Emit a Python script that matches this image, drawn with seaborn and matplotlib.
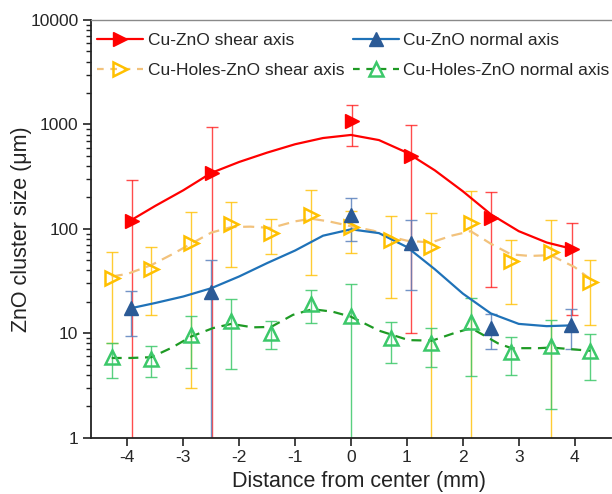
import numpy as np
import pandas as pd
import seaborn as sns
import matplotlib.pyplot as plt
from matplotlib.lines import Line2D
from matplotlib.ticker import FixedLocator, FixedFormatter, LogLocator, NullFormatter

# measured points (mm, um) with symmetric error bars
cu_shear_x = [-3.92, -2.48, 0.02, 1.08, 2.50, 3.96]
cu_shear_y = [119, 341, 1080, 500, 127, 64]
cu_shear_err = [175, 600, 457, 490, 99, 49]

cu_normal_x = [-3.93, -2.50, 0.0, 1.08, 2.50, 3.94]
cu_normal_y = [17.5, 25, 137, 74, 11.2, 12.1]
cu_normal_err = [8, 25, 61, 48, 4.2, 5]

holes_x = [-4.28, -3.57, -2.86, -2.14, -1.43, -0.71, 0.0, 0.71, 1.43, 2.14, 2.86, 3.57, 4.28]
holes_shear_y = [34, 41, 74, 111, 91, 136, 104, 78, 67, 115, 49, 60, 31]
holes_shear_err = [26, 26, 71, 68, 33, 100, 45, 56, 76, 117, 30, 62, 19]
holes_normal_y = [5.9, 5.7, 9.6, 13, 10, 19.2, 14.5, 9, 8, 12.8, 6.6, 7.6, 6.7]
holes_normal_err = [2.2, 1.9, 4.9, 8.5, 3, 6.7, 15, 3.8, 3.2, 8.9, 2.6, 5.7, 3.1]

# fitted curves
cu_shear_fit_x = [-3.9, -3.5, -3.0, -2.5, -2.0, -1.5, -1.0, -0.5, 0.0, 0.5, 1.0, 1.5, 2.0, 2.5, 3.0, 3.5, 3.97]
cu_shear_fit_y = [124, 166, 234, 343, 437, 537, 646, 741, 793, 708, 537, 363, 229, 138, 95, 74, 64]

cu_normal_fit_x = [-3.93, -3.5, -3.0, -2.5, -2.0, -1.5, -1.0, -0.5, 0.0, 0.5, 1.0, 1.5, 2.0, 2.5, 3.0, 3.5, 3.94]
cu_normal_fit_y = [17.4, 19.5, 22.5, 27, 35, 47, 62, 86, 99, 91, 67, 41, 24, 15.5, 12.3, 11.7, 11.9]

holes_shear_fit_x = [-4.28, -4.0, -3.57, -3.2, -2.86, -2.5, -2.14, -1.8, -1.43, -1.0, -0.71, -0.4, 0.0,
                     0.4, 0.71, 1.0, 1.43, 1.8, 2.14, 2.5, 2.86, 3.2, 3.57, 4.0, 4.28]
holes_shear_fit_y = [35, 37, 45, 57, 72, 92, 104, 105, 102, 118, 125, 118, 106,
                     96, 84, 77, 74, 86, 95, 72, 57, 55, 56, 43, 33]

holes_normal_fit_x = [-4.28, -3.95, -3.57, -3.2, -2.86, -2.47, -2.14, -1.76, -1.43, -1.04, -0.69, -0.33, 0.0,
                      0.5, 1.03, 1.45, 1.86, 2.15, 2.63, 2.87, 3.35, 3.58, 4.28]
holes_normal_fit_y = [5.8, 5.8, 5.9, 7.3, 9.3, 11.2, 12.3, 11.4, 11.5, 15, 17, 16.1, 14.4,
                      10.6, 8.6, 8.5, 10.1, 11.2, 8.0, 7.2, 7.2, 7.3, 6.8]

labels = ["Cu-ZnO shear axis", "Cu-Holes-ZnO shear axis", "Cu-ZnO normal axis", "Cu-Holes-ZnO normal axis"]

sns.set_style("ticks")
plt.rcParams['font.family'] = ['Liberation Sans', 'DejaVu Sans']

fig, ax = plt.subplots(figsize=(6.12, 4.94), dpi=100)
fig.subplots_adjust(left=91/612, right=611/612, bottom=1-437.7/494, top=1-20/494)
ax.set_yscale('log')

red, blue_line, blue_mk, blue_err = '#ff0000', '#1f72b8', '#2b5a96', '#5b82bd'
orange_line, orange_mk = '#f2c27c', '#ffc000'
green_line, green_mk = '#1e9a24', '#3cc86a'

# fitted curves
sns.lineplot(x=cu_shear_fit_x, y=cu_shear_fit_y, ax=ax, color=red, lw=1.6, sort=False, zorder=3)
sns.lineplot(x=cu_normal_fit_x, y=cu_normal_fit_y, ax=ax, color=blue_line, lw=1.6, sort=False, zorder=3)
sns.lineplot(x=holes_shear_fit_x, y=holes_shear_fit_y, ax=ax, color=orange_line, lw=1.6,
             linestyle=(0, (5, 3)), sort=False, zorder=2)
sns.lineplot(x=holes_normal_fit_x, y=holes_normal_fit_y, ax=ax, color=green_line, lw=1.6,
             linestyle=(0, (4.5, 3)), sort=False, zorder=2)

# error bars
ax.errorbar(holes_x, holes_shear_y, yerr=holes_shear_err, fmt='none', ecolor=orange_mk,
            elinewidth=1.0, capsize=4, capthick=1.0, alpha=0.8, zorder=1)
ax.errorbar(holes_x, holes_normal_y, yerr=holes_normal_err, fmt='none', ecolor=green_mk,
            elinewidth=1.0, capsize=4, capthick=1.0, alpha=0.85, zorder=1)
ax.errorbar(cu_shear_x, cu_shear_y, yerr=cu_shear_err, fmt='none', ecolor=red,
            elinewidth=1.0, capsize=4, capthick=1.0, alpha=0.7, zorder=1)
ax.errorbar(cu_normal_x, cu_normal_y, yerr=cu_normal_err, fmt='none', ecolor=blue_err,
            elinewidth=1.0, capsize=4, capthick=1.0, alpha=0.85, zorder=1)

# markers
ax.plot(holes_x, holes_shear_y, ls='none', marker='>', ms=10, mfc='none', mec=orange_mk, mew=1.8, zorder=4)
ax.plot(holes_x, holes_normal_y, ls='none', marker='^', ms=10, mfc='none', mec=green_mk, mew=1.8, zorder=4)
ax.plot(cu_shear_x, cu_shear_y, ls='none', marker='>', ms=10, mfc=red, mec=red, zorder=5)
ax.plot(cu_normal_x, cu_normal_y, ls='none', marker='^', ms=10, mfc=blue_mk, mec=blue_mk, zorder=5)

ax.set_xlim(-4.65, 4.65)
ax.set_ylim(1, 10000)
ax.set_xticks(range(-4, 5))
ax.set_xticklabels([str(v) for v in range(-4, 5)])
ax.yaxis.set_major_locator(FixedLocator([1, 10, 100, 1000, 10000]))
ax.yaxis.set_major_formatter(FixedFormatter(['1', '10', '100', '1000', '10000']))
ax.yaxis.set_minor_locator(LogLocator(base=10, subs=np.arange(2, 10)))
ax.yaxis.set_minor_formatter(NullFormatter())
ax.tick_params(axis='both', which='major', labelsize=12.5, length=6, width=1.2, color='#222222', pad=3)
ax.tick_params(axis='y', which='minor', length=3.5, width=1, color='#222222')
ax.tick_params(axis='x', which='minor', length=0)

for s in ['left', 'bottom']:
    ax.spines[s].set_color('#222222')
    ax.spines[s].set_linewidth(1.3)
ax.spines['top'].set_color('#8a8a8a')
ax.spines['top'].set_linewidth(1.0)
ax.spines['right'].set_visible(False)

ax.set_xlabel("Distance from center (mm)", fontsize=15.5, color='#222222')
ax.set_ylabel("ZnO cluster size (μm)", fontsize=15.5, color='#222222')
ax.xaxis.set_label_coords(0.515, -0.08)
ax.yaxis.set_label_coords(-0.113, 0.5)

handles = [
    Line2D([], [], color=red, lw=1.6, marker='>', ms=10, mfc=red, mec=red),
    Line2D([], [], color=orange_line, lw=1.6, ls=(0, (3, 3)), marker='>', ms=10, mfc='none', mec=orange_mk, mew=1.8),
    Line2D([], [], color=blue_line, lw=1.6, marker='^', ms=10, mfc=blue_mk, mec=blue_mk),
    Line2D([], [], color=green_line, lw=1.6, ls=(0, (3, 3)), marker='^', ms=10, mfc='none', mec=green_mk, mew=1.8),
]
ax.legend(handles, labels, ncol=2, frameon=False, fontsize=12.5, loc='upper left',
          bbox_to_anchor=(97/612, 1-33/494), bbox_transform=fig.transFigure,
          borderpad=0, borderaxespad=0, handlelength=2.66, handletextpad=0.25,
          columnspacing=0.5, labelspacing=0.85)

fig.savefig("out.png", dpi=100)
